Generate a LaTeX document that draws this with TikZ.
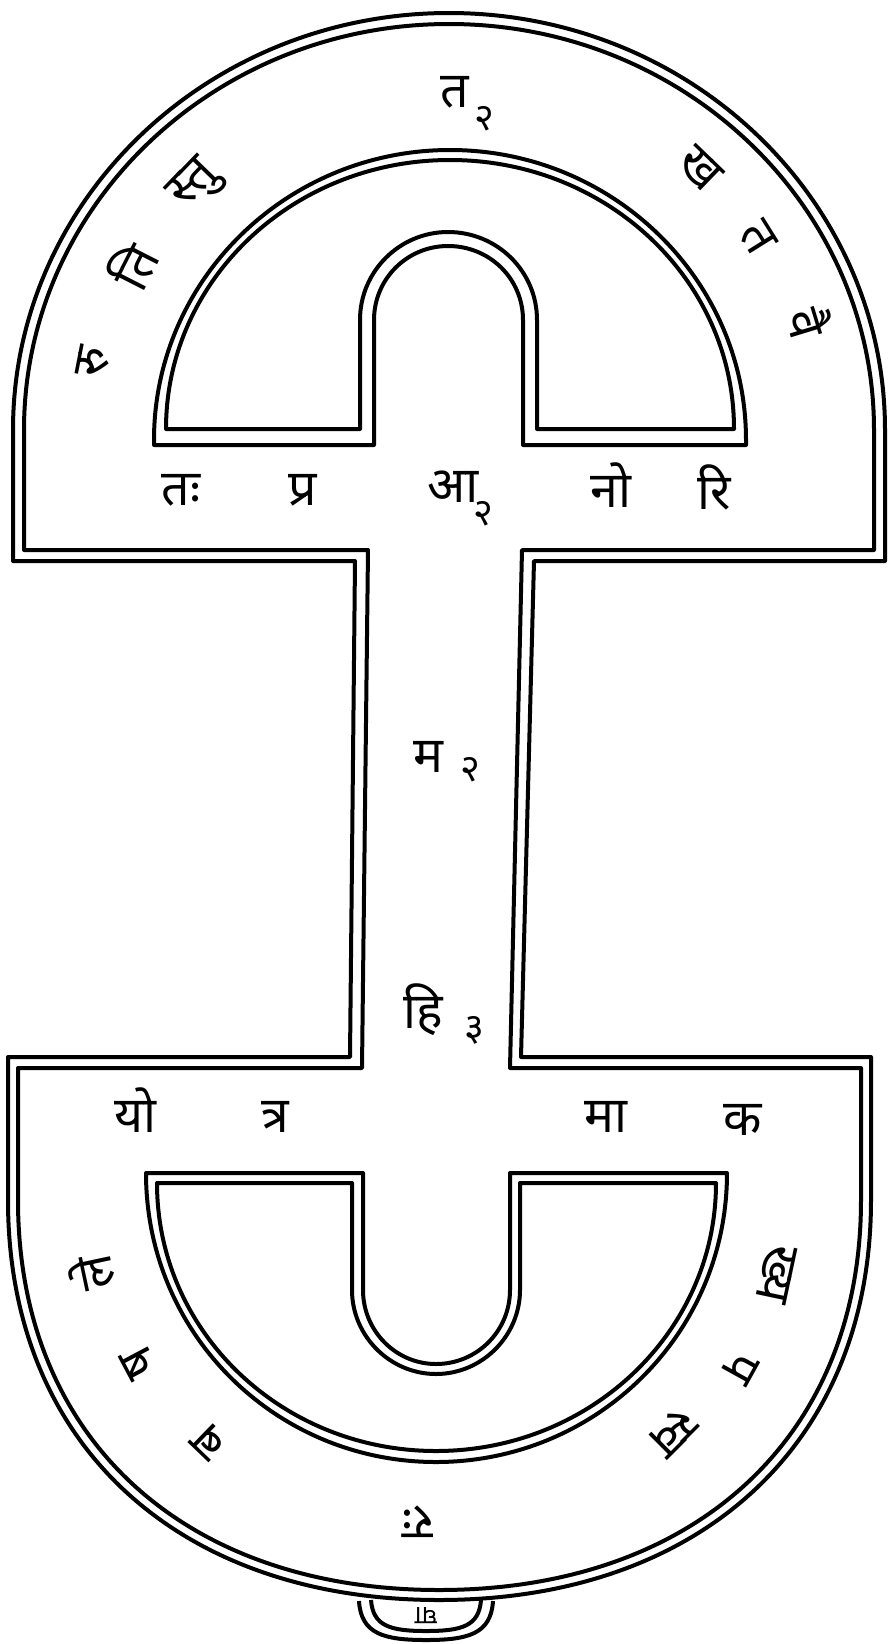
\documentclass[tikz,border=0pt]{standalone}
\usepackage{fontspec}
\newfontfamily\deva[Script=Devanagari]{Noto Sans}

\begin{document}
\begin{tikzpicture}[
  x=1pt, y=-1pt,
  wall/.style={line width=4pt, line join=round},
  akshara/.style={font=\deva\fontsize{50}{52}\selectfont, inner sep=0pt},
  ank/.style={font=\deva\fontsize{38}{40}\selectfont, inner sep=0pt}
]
\useasboundingbox (0,0) rectangle (891,1644);

% outer contour (channel side) and its second line
\draw[wall] (24,550) -- (24,430) .. controls (24,206) and (214,24) .. (449,24)
  .. controls (684,24) and (874,206) .. (874,430) -- (874,550) -- (522,550)
  -- (510,1068) -- (861,1068) -- (861,1200)
  .. controls (861,1440) and (692,1590) .. (439,1590)
  .. controls (186,1590) and (18,1440) .. (18,1200)
  -- (18,1068) -- (362,1068) -- (368,550) -- cycle;
\draw[wall] (13,561) -- (13,430) .. controls (13,200) and (208,13) .. (449,13)
  .. controls (690,13) and (885,200) .. (885,430) -- (885,561) -- (534,561)
  -- (521,1057) -- (871,1057) -- (871,1200)
  .. controls (871,1446) and (698,1600) .. (439,1600)
  .. controls (180,1600) and (8,1446) .. (8,1200)
  -- (8,1057) -- (350,1057) -- (355,561) -- cycle;

% upper island
\draw[wall] (154,445) -- (154,440) .. controls (154,280) and (287,150) .. (450,150)
  .. controls (613,150) and (746,280) .. (746,440) -- (746,445) -- (523,445)
  -- (523,320) .. controls (523,279) and (490,246) .. (448,246)
  .. controls (407,246) and (374,279) .. (374,320) -- (374,445) -- cycle;
\draw[wall] (166,429) .. controls (166,280) and (293,160) .. (450,160)
  .. controls (607,160) and (734,280) .. (734,429) -- (537,429)
  -- (537,320) .. controls (537,271) and (497,232) .. (448,232)
  .. controls (400,232) and (360,271) .. (360,320) -- (360,429) -- cycle;

% lower island
\draw[wall] (146,1173) -- (363,1173) -- (363,1290)
  .. controls (363,1331) and (396,1364) .. (436,1364)
  .. controls (477,1364) and (510,1331) .. (510,1290) -- (510,1173) -- (727,1173)
  .. controls (727,1334) and (596,1462) .. (436,1462)
  .. controls (276,1462) and (146,1334) .. (146,1173) -- cycle;
\draw[wall] (157,1183) -- (352,1183) -- (352,1290)
  .. controls (352,1336) and (390,1374) .. (436,1374)
  .. controls (482,1374) and (520,1336) .. (520,1290) -- (520,1183) -- (716,1183)
  .. controls (716,1332) and (590,1451) .. (436,1451)
  .. controls (282,1451) and (157,1332) .. (157,1183) -- cycle;

% little pocket at the foot
\draw[wall] (371,1600) .. controls (373,1626) and (390,1631) .. (426,1631)
  .. controls (462,1631) and (479,1626) .. (481,1600);
\draw[wall] (359,1601) .. controls (361,1634) and (384,1640) .. (426,1640)
  .. controls (468,1640) and (491,1634) .. (493,1601);

% upper arc
\node[akshara, rotate=79]  (ua1) at (93,362)  {रु};
\node[akshara, rotate=63]  (ua2) at (132,266) {ति};
\node[akshara, rotate=46]  (ua3) at (196,186) {स्तु};
\node[akshara]             (ua4) at (455,92)  {त};
\node[ank]                 (ua4n) at (484,119) {२};
\node[akshara, rotate=-44] (ua5) at (700,169) {ख};
\node[akshara, rotate=-58] (ua6) at (758,238) {त};
\node[akshara, rotate=-73] (ua7) at (810,322) {वै};

% upper row
\node[akshara] (ur1) at (181,490) {तः};
\node[akshara] (ur2) at (303,490) {प्र};
\node[akshara] (ur3) at (453,487) {आ};
\node[ank]     (ur3n) at (483,514) {२};
\node[akshara] (ur4) at (611,485) {नो};
\node[akshara] (ur5) at (714,487) {रि};

% stem
\node[akshara] (sm1) at (428,757)  {म};
\node[ank]     (sm1n) at (470,770) {२};
\node[akshara] (sm2) at (423,1010) {हि};
\node[ank]     (sm2n) at (474,1030) {३};

% lower row
\node[akshara] (lr1) at (135,1110) {यो};
\node[akshara] (lr2) at (275,1117) {त्र};
\node[akshara] (lr3) at (606,1117) {मा};
\node[akshara] (lr4) at (743,1120) {क};

% lower arc
\node[akshara, rotate=102]  (la1) at (91,1273)  {ले};
\node[akshara, rotate=118]  (la2) at (139,1363) {ष};
\node[akshara, rotate=136]  (la3) at (209,1442) {ब};
\node[akshara, rotate=180]  (la4) at (418,1522) {रः};
\node[akshara, rotate=-135] (ra3) at (673,1432) {स्व};
\node[akshara, rotate=-119] (ra2) at (740,1367) {प};
\node[akshara, rotate=-102] (ra1) at (777,1274) {ख्य};

% pocket
\node[font=\deva\fontsize{26}{28}\selectfont, inner sep=0pt, rotate=180] (pk) at (426,1616) {घा};

\end{tikzpicture}
\end{document}
